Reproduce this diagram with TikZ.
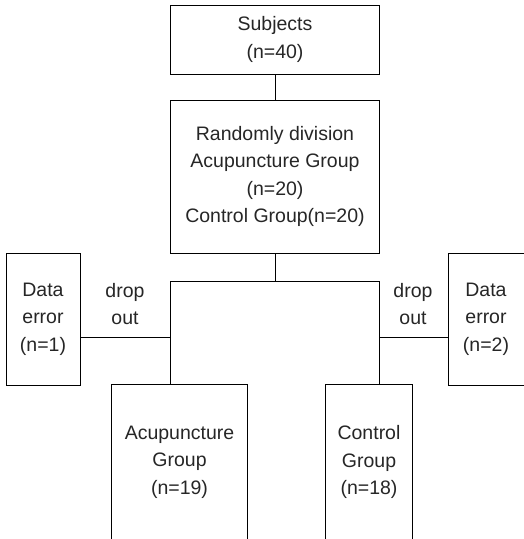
\documentclass[tikz,border=0pt]{standalone}
\usepackage{fontspec}
\setmainfont{Liberation Sans}
\begin{document}
\begin{tikzpicture}[x=1pt,y=1pt,
  line width=1pt,
  txt/.style={align=center, font=\fontsize{19.5}{27.5}\selectfont, text=black!85, inner sep=0pt},
  box/.style={txt, draw, minimum width=#1},
  openbox/.style={txt, minimum width=#1, minimum height=154}]
\useasboundingbox (0,0) rectangle (524,-539);
% top boxes
\node[box=209, minimum height=69] (subj) at (275,-39.5) {Subjects\\(n=40)};
\node[box=209, minimum height=153] (rand) at (275,-176.5)
  {Randomly division\\Acupuncture Group\\(n=20)\\Control Group(n=20)};
% drop-out boxes
\node[box=74, minimum height=132] (dl) at (43,-319) {Data\\error\\(n=1)};
\node[box=76, minimum height=132] (dr) at (486,-319) {Data\\error\\(n=2)};
% group boxes, open at the bottom
\node[openbox=135] (acup) at (179.5,-462) {Acupuncture\\Group\\(n=19)};
\node[openbox=86] (ctrl) at (369,-462) {Control\\Group\\(n=18)};
\draw (acup.south west) -- (acup.north west) -- (acup.north east) -- (acup.south east);
\draw (ctrl.south west) -- (ctrl.north west) -- (ctrl.north east) -- (ctrl.south east);
% labels
\node[txt] (dol) at (125,-304) {drop\\out};
\node[txt] (dor) at (413,-304) {drop\\out};
% connectors
\coordinate (split) at (275,-281);
\coordinate (jl) at (170.5,-281);
\coordinate (jr) at (379.5,-281);
\coordinate (ml) at (170.5,-337);
\coordinate (mr) at (379.5,-337);
\draw (subj.south) -- (rand.north);
\draw (rand.south) -- (split);
\draw (jl) -- (jr);
\draw (jl) -- (jl |- acup.north);
\draw (jr) -- (jr |- ctrl.north);
\draw (ml) -- (ml -| dl.east);
\draw (mr) -- (mr -| dr.west);
\end{tikzpicture}
\end{document}
